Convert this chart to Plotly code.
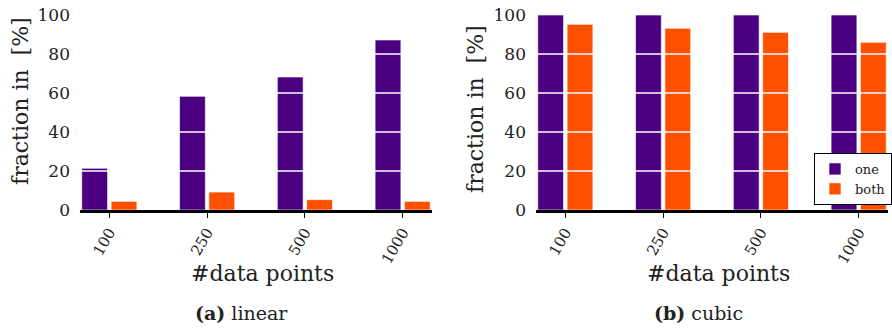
import plotly.graph_objects as go

categories = ["100", "250", "500", "1000"]
linear_one = [21.4, 58.3, 68.2, 87.2]
linear_both = [4.4, 9.2, 5.3, 4.4]
cubic_one = [100, 100, 100, 100]
cubic_both = [95.2, 93.2, 91.1, 86.0]
y_ticks = [0, 20, 40, 60, 80, 100]

PURPLE = "#4B0082"
ORANGE = "#FF5000"
FONT = "DejaVu Serif"
W, H = 892, 328
TOP, BOTTOM = 15, 210  # pixel rows of plot area

fig = go.Figure()

def add_pair(one, both, xa, ya, show):
    fig.add_trace(go.Bar(x=categories, y=one, name="one", marker_color=PURPLE,
                         marker_line=dict(color="rgba(255,255,255,0.8)", width=0.8),
                         xaxis=xa, yaxis=ya, showlegend=show))
    fig.add_trace(go.Bar(x=categories, y=both, name="both", marker_color=ORANGE,
                         marker_line=dict(color="rgba(255,255,255,0.8)", width=0.8),
                         xaxis=xa, yaxis=ya, showlegend=show))

add_pair(linear_one, linear_both, "x", "y", False)
add_pair(cubic_one, cubic_both, "x2", "y2", True)

xcommon = dict(type="category", range=[-0.3, 3.3], showline=True, linecolor="black",
               linewidth=2.5, ticks="outside", ticklen=5, tickwidth=1, tickcolor="black",
               tickangle=-60, tickfont=dict(family=FONT, size=15, color="#222"),
               showgrid=False, zeroline=False)
ycommon = dict(range=[0, 100], tickvals=y_ticks, showgrid=False, zeroline=False,
               showline=False, ticks="", ticklabelstandoff=9,
               tickfont=dict(family=FONT, size=17, color="#222"))

def py(y):
    return (BOTTOM - y) / (BOTTOM - TOP)

def pxx(x):
    return x / W

fig.update_layout(
    width=W, height=H,
    margin=dict(l=0, r=0, t=TOP, b=H - BOTTOM),
    plot_bgcolor="white", paper_bgcolor="white",
    barmode="group", bargap=0.4, bargroupgap=0.12,
    xaxis=dict(domain=[80 / W, 432 / W], anchor="y", **xcommon),
    yaxis=dict(anchor="x", **ycommon),
    xaxis2=dict(domain=[536 / W, 888 / W], anchor="y2", **xcommon),
    yaxis2=dict(anchor="x2", **ycommon),
    legend=dict(x=1, xanchor="right", y=py(153), yanchor="top",
                bordercolor="black", borderwidth=1, bgcolor="white",
                font=dict(family=FONT, size=13, color="#222"),
                tracegroupgap=0, itemwidth=30),
)

# white grid lines drawn over the bars
shapes = []
for xd, yr in (("x domain", "y"), ("x2 domain", "y2")):
    for t in y_ticks[1:-1]:
        shapes.append(dict(type="line", xref=xd, yref=yr, x0=0, x1=1, y0=t, y1=t,
                           line=dict(color="white", width=1.5), layer="above"))
fig.update_layout(shapes=shapes)

ann = []
def add_text(x, y, txt, size, angle=0):
    ann.append(dict(x=pxx(x), y=py(y), xref="paper", yref="paper", text=txt,
                    textangle=angle, xanchor="center", yanchor="middle",
                    showarrow=False, font=dict(family=FONT, size=size, color="#222")))

add_text(20, 101, "fraction in  [%]", 22, -90)
add_text(476, 109, "fraction in  [%]", 22, -90)
add_text(262, 273, "#data points", 22)
add_text(718, 273, "#data points", 22)
add_text(241, 313, "<b>(a)</b> linear", 19)
add_text(698, 313, "<b>(b)</b> cubic", 19)
fig.update_layout(annotations=ann)

fig.write_html("out.html")
